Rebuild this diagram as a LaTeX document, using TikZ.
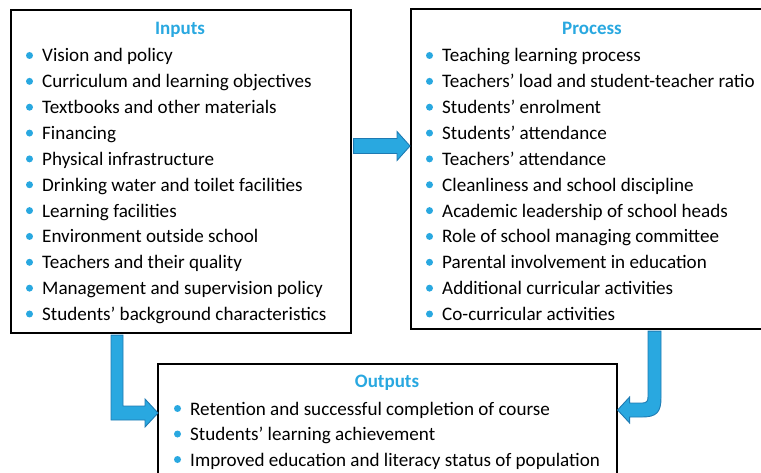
\documentclass[tikz,border=0pt]{standalone}
\usepackage{fontspec}
\setmainfont{Carlito}
\usetikzlibrary{calc}
\definecolor{hblue}{RGB}{41,168,224}
\definecolor{hblueedge}{RGB}{30,122,178}
\begin{document}
\begin{tikzpicture}[x=1pt,y=-1pt,
  box/.style={draw=black,line width=1.6pt,inner sep=0pt,anchor=north west},
  boxtitle/.style={anchor=base,font=\fontsize{19}{21}\selectfont\bfseries,text=hblue,inner sep=0pt},
  item/.style={anchor=base west,font=\fontsize{19.1}{21}\selectfont,text=black,inner sep=0pt},
  dot/.style={circle,fill=hblue,inner sep=0pt,minimum size=7pt},
  blockarrow/.style={fill=hblue,draw=hblueedge,line width=0.9pt,line join=miter}]
\useasboundingbox (0,0) rectangle (761,473);
\clip (0,0) rectangle (761,473);

% boxes
\node[box,minimum width=340pt,minimum height=323pt] (inputs) at (10,9) {};
\node[box,minimum width=364pt,minimum height=320pt] (process) at (410,8) {};
\node[box,minimum width=459pt,minimum height=140pt] (outputs) at (157,363) {};

% titles
\node[boxtitle] (tin) at (180,34.5) {Inputs};
\node[boxtitle] (tpr) at (592,35) {Process};
\node[boxtitle] (tout) at (387,388) {Outputs};

% inputs list
\foreach \t [count=\i from 0] in {Vision and policy,Curriculum and learning objectives,Textbooks and other materials,Financing,Physical infrastructure,Drinking water and toilet facilities,Learning facilities,Environment outside school,Teachers and their quality,Management and supervision policy,Students’ background characteristics}{
  \node[item] (in\i) at (42,{62+25.85*\i}) {\t};
  \node[dot] (ind\i) at (29.5,{55.5+25.85*\i}) {};
}
% process list
\foreach \t [count=\i from 0] in {Teaching learning process,Teachers’ load and student-teacher ratio,Students’ enrolment,Students’ attendance,Teachers’ attendance,Cleanliness and school discipline,Academic leadership of school heads,Role of school managing committee,Parental involvement in education,Additional curricular activities,Co-curricular activities}{
  \node[item] (pr\i) at (442,{62+25.85*\i}) {\t};
  \node[dot] (prd\i) at (429.5,{55.5+25.85*\i}) {};
}
% outputs list
\foreach \t [count=\i from 0] in {Retention and successful completion of course,Students’ learning achievement,Improved education and literacy status of population}{
  \node[item] (out\i) at (190,{415+25.5*\i}) {\t};
  \node[dot] (outd\i) at (177.5,{408.5+25.5*\i}) {};
}

% arrow inputs -> process
\coordinate (a1s) at (inputs.east |- 0,146);
\coordinate (a1t) at (process.west |- 0,146);
\draw[blockarrow] ($(a1s)+(2,-7.5)$) -- ($(a1t)+(-13,-7.5)$) -- ($(a1t)+(-13,-14.5)$) -- (a1t)
  -- ($(a1t)+(-13,14.5)$) -- ($(a1t)+(-13,7.5)$) -- ($(a1s)+(2,7.5)$) -- cycle;

% arrow inputs -> outputs
\coordinate (a2s) at (inputs.south -| 117,0);
\coordinate (a2t) at (outputs.west |- 0,413);
\coordinate (a2c) at (a2s |- a2t);
\draw[blockarrow] ($(a2s)+(-6,1.5)$) -- ($(a2s)+(6,1.5)$) -- ($(a2c)+(6,-7)$) -- ($(a2t)+(-12,-7)$)
  -- ($(a2t)+(-12,-14)$) -- ($(a2t)+(1,0)$) -- ($(a2t)+(-12,14)$) -- ($(a2t)+(-12,7)$)
  -- ($(a2c)+(-6,7)$) -- cycle;

% arrow process -> outputs
\coordinate (a3s) at (process.south -| 654.5,0);
\coordinate (a3t) at (outputs.east |- 0,410);
\coordinate (a3c) at (a3s |- a3t);
\draw[blockarrow] ($(a3s)+(6.5,1.5)$) -- ($(a3c)+(6.5,-12)$)
  .. controls ($(a3c)+(6.5,2)$) and ($(a3c)+(2,7)$) .. ($(a3c)+(-12,7)$)
  -- ($(a3t)+(12,7)$) -- ($(a3t)+(12,13)$) -- (a3t) -- ($(a3t)+(12,-13)$) -- ($(a3t)+(12,-7)$)
  -- ($(a3c)+(-12,-7)$) .. controls ($(a3c)+(-8,-7)$) and ($(a3c)+(-6.5,-9)$) .. ($(a3c)+(-6.5,-13)$)
  -- ($(a3s)+(-6.5,1.5)$) -- cycle;
\end{tikzpicture}
\end{document}
